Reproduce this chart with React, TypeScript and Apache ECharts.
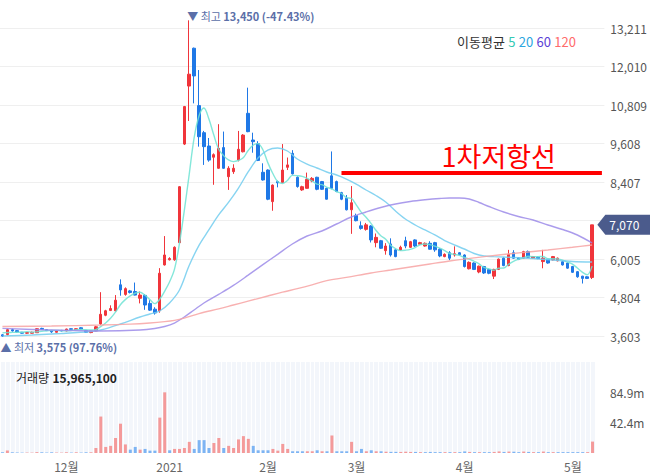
import React, { useEffect, useRef } from 'react';
import * as echarts from 'echarts';

const FONT = "'Noto Sans CJK KR', 'Noto Sans', sans-serif";

const dates = [
  '2020-11-12','2020-11-13','2020-11-16','2020-11-17','2020-11-18','2020-11-19','2020-11-20','2020-11-23','2020-11-24','2020-11-25','2020-11-26','2020-11-27','2020-11-30',
  '2020-12-01','2020-12-02','2020-12-03','2020-12-04','2020-12-07','2020-12-08','2020-12-09','2020-12-10','2020-12-11','2020-12-14','2020-12-15','2020-12-16','2020-12-17','2020-12-18','2020-12-21','2020-12-22','2020-12-23','2020-12-24','2020-12-28','2020-12-29','2020-12-30',
  '2021-01-04','2021-01-05','2021-01-06','2021-01-07','2021-01-08','2021-01-11','2021-01-12','2021-01-13','2021-01-14','2021-01-15','2021-01-18','2021-01-19','2021-01-20','2021-01-21','2021-01-22','2021-01-25','2021-01-26','2021-01-27','2021-01-28','2021-01-29',
  '2021-02-01','2021-02-02','2021-02-03','2021-02-04','2021-02-05','2021-02-08','2021-02-09','2021-02-10','2021-02-15','2021-02-16','2021-02-17','2021-02-18','2021-02-19','2021-02-22','2021-02-23','2021-02-24','2021-02-25','2021-02-26',
  '2021-03-02','2021-03-03','2021-03-04','2021-03-05','2021-03-08','2021-03-09','2021-03-10','2021-03-11','2021-03-12','2021-03-15','2021-03-16','2021-03-17','2021-03-18','2021-03-19','2021-03-22','2021-03-23','2021-03-24','2021-03-25','2021-03-26','2021-03-29','2021-03-30','2021-03-31',
  '2021-04-01','2021-04-02','2021-04-05','2021-04-06','2021-04-07','2021-04-08','2021-04-09','2021-04-12','2021-04-13','2021-04-14','2021-04-15','2021-04-16','2021-04-19','2021-04-20','2021-04-21','2021-04-22','2021-04-23','2021-04-26','2021-04-27','2021-04-28','2021-04-29','2021-04-30',
  '2021-05-03','2021-05-04','2021-05-06','2021-05-07','2021-05-10',
];

const openP = [
  3640,3650,3800,3770,3720,3690,3690,3705,3840,3800,
  3780,3720,3780,3760,3830,3800,3860,3770,3710,3760,
  3980,4250,4400,4390,5200,4900,5010,4990,4780,4870,
  4620,4440,4390,5820,5980,5980,6515,9590,11400,12580,
  10790,9945,9530,9180,8835,9480,8573,8730,9093,9350,
  10550,9717,9600,8710,8780,7795,8420,8390,8865,9300,
  8555,8160,8210,8440,8555,8420,8210,8600,8420,8075,
  7900,7540,7360,7040,6930,7035,6515,6575,6265,6475,
  6290,6285,6575,6370,6600,6465,6410,6495,6515,6310,
  6080,6200,6130,6200,6130,5700,5880,5600,5770,5680,
  5470,5680,6030,5800,6200,6040,6030,6240,6030,6060,
  5925,5995,5975,5950,5920,5880,5770,5610,5470,5450,
  5430,
];
const closeP = [
  3600,3800,3760,3730,3690,3710,3720,3830,3810,3770,
  3730,3760,3760,3820,3810,3830,3820,3720,3760,3890,
  4280,4390,4460,4720,5040,5080,4960,4880,4880,4570,
  4410,4320,5560,6130,6020,6370,8260,10760,11770,11715,
  9820,9510,9090,9260,9457,8835,8835,8835,9427,9870,
  9977,9665,9080,8470,7870,8310,8380,8780,8940,8660,
  8265,8260,8490,8520,8180,8180,7870,8210,8110,7870,
  7540,7760,7200,6960,7070,6600,6680,6340,6410,6130,
  6080,6370,6410,6545,6410,6515,6495,6310,6290,6100,
  6150,6030,6170,6140,5770,5900,5680,5780,5570,5560,
  5680,6000,5800,6150,6030,5990,6235,6060,6080,6020,
  6030,5880,6080,6030,5820,5720,5590,5450,5400,5400,
  7070,
];
const lowP = [
  3575,3620,3740,3710,3680,3670,3680,3700,3800,3760,
  3700,3710,3750,3750,3800,3790,3810,3700,3690,3750,
  3950,4220,4380,4370,4860,4860,4930,4870,4620,4420,
  4390,4270,4330,5800,5960,5950,6500,9560,10310,10860,
  9510,8940,9040,8320,8820,8820,8160,8660,9050,9330,
  9960,9320,9060,8450,7840,7510,8240,8380,8780,8640,
  8230,8130,8200,8400,8150,8160,7860,8180,8090,7840,
  7520,6790,7180,6920,6890,6520,6370,6320,6140,6080,
  6060,6260,6340,6350,6380,6440,6390,6300,6230,6060,
  6060,5970,6080,6120,5740,5680,5660,5560,5540,5530,
  5380,5660,5780,5780,6010,5970,6010,6040,6010,6000,
  5715,5860,5960,5930,5800,5700,5570,5420,5240,5380,
  5380,
];
const highP = [
  3660,3830,3830,3790,3730,3730,3740,3850,3860,3810,
  3790,3770,3790,3830,3840,3840,3880,3780,3770,3920,
  4970,4420,4560,4880,5370,5120,5040,5270,4990,4910,
  4720,4500,5720,6720,6060,6400,8280,10780,13450,12600,
  11900,10000,9780,9300,10210,9980,8900,8960,10000,9900,
  11350,9945,9680,8990,8800,8330,8450,9590,9170,9400,
  8580,8290,8700,8560,8570,8440,8230,9360,8450,8100,
  8000,8280,7420,7180,7130,7060,6800,6600,6500,6650,
  6330,6420,6700,6570,6620,6540,6520,6560,6540,6340,
  6180,6250,6400,6220,6150,5930,5900,5800,5790,5700,
  5700,6020,6060,6290,6280,6060,6260,6270,6100,6080,
  6290,6010,6100,6050,5940,5900,5790,5630,5480,5470,
  7070,
];
const volumes = [
  1.0e6,3.5e6,1.0e6,0.6e6,0.5e6,0.6e6,0.5e6,1.2e6,1.0e6,0.6e6,
  1.0e6,0.6e6,0.5e6,1.0e6,0.6e6,1.0e6,0.6e6,1.0e6,1.0e6,7.0e6,
  51e6,8.5e6,10e6,21e6,41e6,12e6,4.7e6,8.5e6,4.7e6,5.7e6,
  3.3e6,3.3e6,49.5e6,84.88e6,3.8e6,5.7e6,5.7e6,7.0e6,15.6e6,5.7e6,
  18e6,18e6,7.0e6,14e6,21e6,7.0e6,10e6,7.0e6,19e6,23.6e6,
  19.8e6,10e6,3.8e6,3.8e6,3.8e6,5.7e6,3.3e6,12.7e6,5.7e6,2.4e6,
  2.4e6,2.4e6,2.4e6,2.4e6,3.8e6,2.4e6,2.4e6,24.5e6,2.4e6,2.4e6,
  2.4e6,15.6e6,2.4e6,5.7e6,2.4e6,3.8e6,2.4e6,2.4e6,1.8e6,1.6e6,
  1.6e6,1.5e6,1.8e6,1.5e6,1.5e6,1.2e6,1.2e6,1.5e6,1.2e6,1.2e6,
  1.2e6,1.2e6,1.2e6,1.2e6,2.2e6,1.5e6,1.2e6,1.2e6,1.2e6,1.2e6,
  1.5e6,2.2e6,1.5e6,2.0e6,1.8e6,1.2e6,2.0e6,1.5e6,1.2e6,1.2e6,
  2.0e6,1.2e6,1.2e6,1.2e6,1.2e6,1.2e6,1.2e6,1.2e6,1.2e6,1.2e6,
  15965100,
];

const ma5 = [
  3700,3710,3715,3720,3720,3738,3722,3736,3752,3768,
  3772,3780,3766,3768,3776,3796,3808,3800,3788,3804,
  3894,4008,4156,4348,4578,4738,4852,4936,4968,4874,
  4740,4612,4748,4998,5288,5680,6468,7508,8636,9775,
  10465,10715,10381,9879,9427,9230,9095,9044,9078,9160,
  9389,9555,9604,9412,9012,8679,8422,8362,8456,8614,
  8605,8581,8523,8439,8343,8326,8248,8192,8110,8048,
  7920,7898,7696,7466,7306,7118,6902,6730,6620,6432,
  6328,6266,6280,6307,6363,6450,6475,6455,6404,6342,
  6269,6176,6148,6118,6052,6002,5932,5854,5740,5698,
  5654,5718,5722,5838,5932,5994,6041,6093,6079,6077,
  6085,6014,6018,6008,5968,5906,5848,5722,5596,5512,
  5782,
];
const ma20 = [
  [0,3603],[6,3634],[12,3681],[18,3743],[20,3790],[24,3977],[28,4195],[30,4289],[32,4383],[34,4633],
  [36,5030],[38,5800],[40,6430],[42,6910],[44,7380],[46,7770],[48,8210],[50,8720],[52,9155],[54,9405],
  [56,9468],[58,9374],[60,9124],[62,8968],[64,8844],[66,8719],[68,8625],[70,8500],[72,8344],[74,8157],
  [76,7986],[78,7783],[80,7500],[82,7252],[84,7066],[86,6910],[88,6754],[90,6582],[92,6442],[94,6317],
  [96,6177],[98,6099],[100,6080],[104,6052],[108,6021],[112,5974],[116,5927],[120,5911],
];
const ma60 = [
  [0,3840],[10,3790],[20,3760],[28,3790],[31,3837],[33,3899],[35,4008],[37,4195],[39,4414],[41,4633],
  [44,4900],[47,5180],[50,5500],[53,5830],[56,6150],[59,6473],[62,6722],[65,6878],[68,7097],[71,7315],
  [74,7471],[77,7611],[80,7721],[83,7799],[86,7852],[89,7892],[91,7908],[93,7908],[95,7877],[97,7768],
  [99,7643],[102,7471],[105,7331],[108,7221],[111,7066],[114,6925],[117,6754],[120,6504],
];
const ma120 = [
  [0,3900],[10,3915],[20,3945],[26,3975],[30,4010],[33,4050],[35,4090],[37,4160],[40,4300],[44,4450],
  [47,4570],[50,4690],[54,4851],[57,4970],[60,5080],[63,5200],[66,5330],[70,5430],[75,5568],[79,5660],
  [83,5755],[87,5850],[91,5942],[96,6040],[101,6130],[106,6210],[111,6286],[116,6370],[120,6442],
];

const monthTickDates = ['2020-12-01','2021-01-04','2021-02-01','2021-03-02','2021-04-01','2021-05-03'];
const monthTickLabels = ['12월','2021','2월','3월','4월','5월'];

const priceStep = 1201;
const priceMin = 3603;
const priceMax = 13211;
const volStep = 42.44e6;
const volMax = 127.32e6;

const resistancePrice = 8700;
const resistanceStart = '2021-02-24';
const resistanceLabelAt = '2021-04-12';

const upColor = '#f0353b';
const downColor = '#1f78e6';
const volUp = '#f49a9a';
const volDown = '#7db4f3';
const maColors = ['#6fe3d3', '#72cdef', '#9c8be9', '#f7a3a3'];
const legendColors = ['#35c9b4', '#2ba6e0', '#5b3fd6', '#ff6b6b'];
const tagColor = '#4b5b8c';
const extremeColor = '#5b6fa8';

const fmt = (v: number) => Math.round(v).toLocaleString('en-US');

export default function App() {
  const ref = useRef<HTMLDivElement>(null);
  useEffect(() => {
    if (!ref.current) return;
    const chart = echarts.init(ref.current, undefined, { renderer: 'svg' });
    const priceCats = [...dates, 'pad-1', 'pad-2'];
    const candleData = dates.map((_, i) => [openP[i], closeP[i], lowP[i], highP[i]]);
    const volData = volumes.map((v, i) => {
      const prev = i > 0 ? closeP[i - 1] : openP[i];
      return { value: v, itemStyle: { color: closeP[i] >= prev ? volUp : volDown } };
    });
    const lastClose = closeP[closeP.length - 1];

    const lineSeries = (name: string, data: any[], color: string) => ({
      name,
      type: 'line',
      xAxisIndex: 0,
      yAxisIndex: 0,
      data,
      showSymbol: false,
      symbol: 'none',
      smooth: 0.35,
      connectNulls: true,
      clip: false,
      silent: true,
      z: 4,
      lineStyle: { color, width: 1.4, opacity: 0.85 },
    });

    chart.setOption({
      animation: false,
      backgroundColor: '#ffffff',
      textStyle: { fontFamily: FONT },
      grid: [
        { left: 0, right: 45, top: 28, height: 308 },
        { left: 0, right: 55, top: 362, height: 91 },
      ],
      xAxis: [
        { type: 'category', gridIndex: 0, data: priceCats, boundaryGap: true, show: false },
        {
          type: 'category', gridIndex: 1, data: dates, boundaryGap: true,
          axisLine: { show: false }, axisTick: { show: false },
          axisLabel: {
            interval: (_i: number, v: string) => monthTickDates.indexOf(v) >= 0,
            formatter: (v: string) => {
              const k = monthTickDates.indexOf(v);
              return k >= 0 ? monthTickLabels[k] : '';
            },
            color: '#666', fontSize: 12, margin: 7, fontFamily: FONT,
          },
          splitArea: { show: true, interval: 0, areaStyle: { color: ['#f3f6fb'] } },
          splitLine: { show: true, interval: 0, lineStyle: { color: '#ffffff', width: 1 } },
        },
      ],
      yAxis: [
        {
          type: 'value', gridIndex: 0, position: 'right', min: priceMin, max: priceMax, interval: priceStep,
          axisLine: { show: false }, axisTick: { show: false },
          splitLine: { lineStyle: { color: '#efefef' } },
          axisLabel: {
            color: '#555', fontSize: 12, margin: 6, fontFamily: FONT,
            formatter: (v: number) => (Math.abs(v - lastClose) < priceStep * 0.3 ? '' : fmt(v)),
          },
        },
        {
          type: 'value', gridIndex: 1, position: 'right', min: 0, max: volMax, interval: volStep,
          axisLine: { show: false }, axisTick: { show: false }, splitLine: { show: false },
          axisLabel: {
            color: '#555', fontSize: 12, margin: 15, fontFamily: FONT,
            formatter: (v: number) => (v > 1e6 && v < volMax * 0.95 ? (v / 1e6).toFixed(1) + 'm' : ''),
          },
        },
      ],
      series: [
        {
          name: 'price', type: 'candlestick', xAxisIndex: 0, yAxisIndex: 0, data: candleData,
          barWidth: 3, clip: false, z: 3,
          itemStyle: { color: upColor, color0: downColor, borderColor: upColor, borderColor0: downColor, borderWidth: 1 },
          markLine: {
            silent: true, symbol: ['none', 'none'], animation: false,
            lineStyle: { color: '#ff0000', width: 4, type: 'solid' },
            label: { show: false },
            data: [[{ coord: [resistanceStart, resistancePrice] }, { coord: ['pad-2', resistancePrice] }]],
          },
          markPoint: {
            silent: true, animation: false,
            data: [{
              coord: [resistanceLabelAt, resistancePrice], symbol: 'circle', symbolSize: 1,
              itemStyle: { color: 'rgba(0,0,0,0)' },
              label: { show: true, position: 'top', distance: 3, formatter: '1차저항선', color: '#ff0000', fontSize: 27, fontFamily: FONT },
            }],
          },
        },
        lineSeries('MA5', ma5, maColors[0]),
        lineSeries('MA20', ma20, maColors[1]),
        lineSeries('MA60', ma60, maColors[2]),
        lineSeries('MA120', ma120, maColors[3]),
        {
          name: 'volume', type: 'bar', xAxisIndex: 1, yAxisIndex: 1, data: volData, barWidth: 3, silent: true,
        },
      ],
    });

    const hiVal = Math.max(...highP);
    const hiIdx = highP.indexOf(hiVal);
    const loVal = Math.min(...lowP);
    const loIdx = lowP.indexOf(loVal);
    const hiPct = ((lastClose / hiVal - 1) * 100).toFixed(2);
    const loPct = ((lastClose / loVal - 1) * 100).toFixed(2);
    const pHi = chart.convertToPixel({ seriesIndex: 0 }, [hiIdx, hiVal]) as number[];
    const pLo = chart.convertToPixel({ seriesIndex: 0 }, [loIdx, loVal]) as number[];
    const pEnd = chart.convertToPixel({ seriesIndex: 0 }, [priceCats.length - 1, lastClose]) as number[];
    const pPrev = chart.convertToPixel({ seriesIndex: 0 }, [priceCats.length - 2, lastClose]) as number[];
    const band = pEnd[0] - pPrev[0];
    const gridRight = pEnd[0] + band / 2;
    const W = chart.getWidth();
    const ty = pEnd[1];

    const exRich = {
      a: { fill: extremeColor, fontSize: 11, fontFamily: FONT },
      b: { fill: extremeColor, fontSize: 11, fontWeight: 'bold', fontFamily: FONT },
    };

    chart.setOption({
      graphic: [
        {
          type: 'text', x: pHi[0] - 2, y: pHi[1] + 1, z: 10,
          style: { text: `{a|▼ 최고 }{b|${fmt(hiVal)} (${hiPct}%)}`, rich: exRich, verticalAlign: 'bottom', align: 'left' },
        },
        {
          type: 'text', x: pLo[0] - 2, y: pLo[1] + 5, z: 10,
          style: { text: `{a|▲ 최저 }{b|${fmt(loVal)} (${loPct}%)}`, rich: exRich, verticalAlign: 'top', align: 'left' },
        },
        {
          type: 'polygon', z: 10,
          shape: { points: [[gridRight - 7, ty], [gridRight + 1, ty - 10], [W, ty - 10], [W, ty + 10], [gridRight + 1, ty + 10]] },
          style: { fill: tagColor },
        },
        {
          type: 'text', x: gridRight + 5, y: ty, z: 11,
          style: { text: fmt(lastClose), fill: '#ffffff', fontSize: 12, fontFamily: FONT, verticalAlign: 'middle', align: 'left' },
        },
        {
          type: 'text', left: 457, top: 35, z: 10,
          style: {
            text: '{t|이동평균} {a|5} {b|20} {c|60} {d|120}',
            rich: {
              t: { fill: '#333', fontSize: 13, fontFamily: FONT },
              a: { fill: legendColors[0], fontSize: 13, fontFamily: FONT },
              b: { fill: legendColors[1], fontSize: 13, fontFamily: FONT },
              c: { fill: legendColors[2], fontSize: 13, fontFamily: FONT },
              d: { fill: legendColors[3], fontSize: 13, fontFamily: FONT },
            },
          },
        },
        {
          type: 'text', left: 16, top: 371, z: 10,
          style: {
            text: `{t|거래량} {v|${fmt(volumes[volumes.length - 1])}}`,
            rich: {
              t: { fill: '#222', fontSize: 12, fontFamily: FONT },
              v: { fill: '#222', fontSize: 12, fontWeight: 'bold', fontFamily: FONT },
            },
          },
        },
      ],
    });

    return () => chart.dispose();
  }, []);
  return <div ref={ref} style={{ position: 'fixed', left: 0, top: 0, width: 650, height: 474, background: '#fff' }} />;
}
